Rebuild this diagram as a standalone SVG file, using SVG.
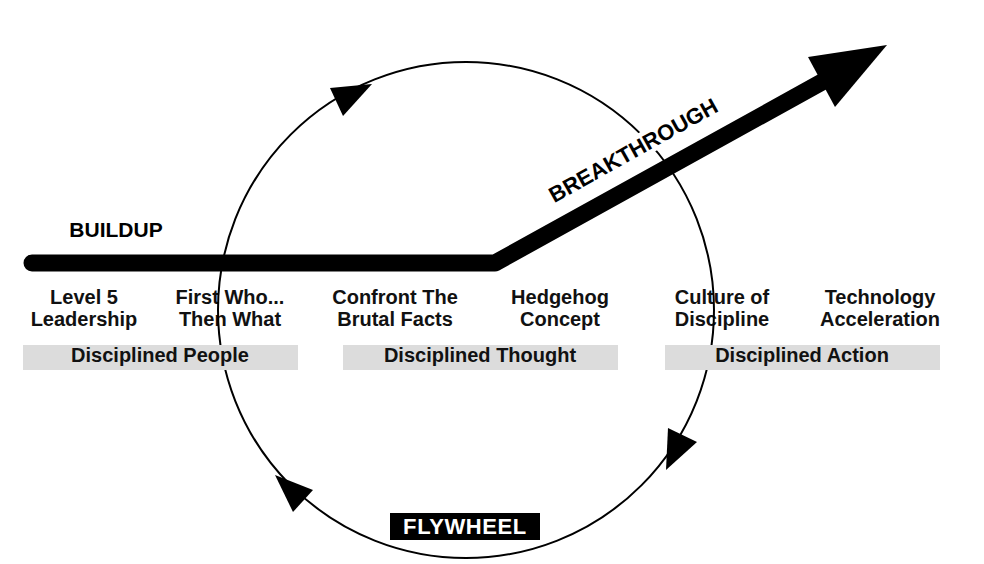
<svg xmlns="http://www.w3.org/2000/svg" width="984" height="564" viewBox="0 0 984 564">
<style>
.lbl{font-family:"Liberation Sans",Arial,sans-serif;font-weight:bold;font-size:20px;fill:#111;text-anchor:middle}
.bar{fill:#dcdcdc}
.big{font-family:"Liberation Sans",Arial,sans-serif;font-weight:bold;fill:#000}
.head{fill:#000}
</style>
<rect width="984" height="564" fill="#fff"/>
<g id="labels">
<g id="level5"><text class="lbl" x="84" y="304">Level 5</text><text class="lbl" x="84" y="326">Leadership</text></g>
<g id="firstwho"><text class="lbl" x="230" y="304">First Who...</text><text class="lbl" x="230" y="326">Then What</text></g>
<g id="confront"><text class="lbl" x="395" y="304">Confront The</text><text class="lbl" x="395" y="326">Brutal Facts</text></g>
<g id="hedgehog"><text class="lbl" x="560" y="304">Hedgehog</text><text class="lbl" x="560" y="326">Concept</text></g>
<g id="culture"><text class="lbl" x="722" y="304">Culture of</text><text class="lbl" x="722" y="326">Discipline</text></g>
<g id="technology"><text class="lbl" x="880" y="304">Technology</text><text class="lbl" x="880" y="326">Acceleration</text></g>
</g>
<g id="connectors">
<circle id="flywheel-circle" cx="466" cy="310" r="248" fill="none" stroke="#000" stroke-width="2"/>
<polygon class="head" points="330,88 372,84 343,116"/>
<polygon class="head" points="668,428 697,442 666,470"/>
<polygon class="head" points="275,475 313,490 293,512"/>
<polyline points="32,263 495,263 822,82" fill="none" stroke="#000" stroke-width="17" stroke-linecap="round" stroke-linejoin="round"/>
<polygon class="head" points="808,57 887,45 835,107"/>
</g>
<g id="disciplined-people"><rect class="bar" x="23" y="345" width="275" height="25"/><text class="lbl" x="160" y="362">Disciplined People</text></g>
<g id="disciplined-thought"><rect class="bar" x="343" y="345" width="275" height="25"/><text class="lbl" x="480" y="362">Disciplined Thought</text></g>
<g id="disciplined-action"><rect class="bar" x="665" y="345" width="275" height="25"/><text class="lbl" x="802" y="362">Disciplined Action</text></g>
<g id="buildup"><text class="big" x="116" y="237" font-size="21" text-anchor="middle">BUILDUP</text></g>
<g id="breakthrough" transform="translate(633,150) rotate(-29.3)">
<rect x="-102" y="-12" width="204" height="24" fill="#fff"/>
<text class="big" x="0" y="8" font-size="22" text-anchor="middle">BREAKTHROUGH</text>
</g>
<g id="flywheel"><rect x="390" y="513" width="150" height="27" fill="#000"/><text class="big" x="465" y="534" font-size="22" letter-spacing="0.6" text-anchor="middle" style="fill:#fff">FLYWHEEL</text></g>
</svg>
